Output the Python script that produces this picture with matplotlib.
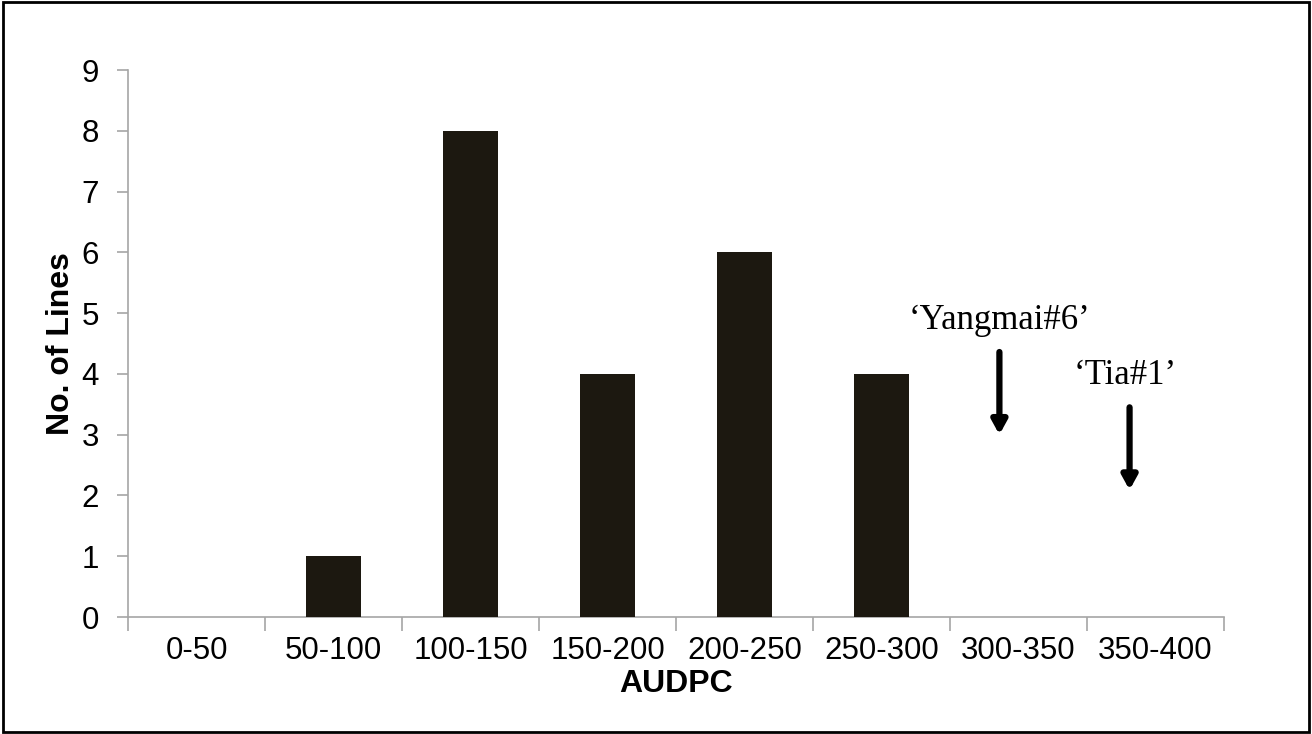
import matplotlib.pyplot as plt
from matplotlib.patches import Rectangle

# data
categories = ['0-50', '50-100', '100-150', '150-200', '200-250', '250-300', '300-350', '350-400']
counts = [0, 1, 8, 4, 6, 4, 0, 0]

# check varieties: label, arrow x (category units), arrow top, arrow tip, label position
checks = ["\u2018Yangmai#6\u2019", "\u2018Tia#1\u2019"]
check_x = [5.86, 6.81]
check_top = [4.36, 3.45]
check_tip = [3.0, 2.09]
label_x = [5.86, 6.78]
label_y = [4.885, 3.98]

plt.rcParams['font.family'] = ['Liberation Sans', 'DejaVu Sans']
fig = plt.figure(figsize=(13.12, 7.34), dpi=100)
ax = fig.add_axes([0.0976, 0.1594, 0.8354, 0.7452])

x = list(range(len(categories)))
ax.bar(x, counts, width=0.4, color='#1c1810', linewidth=0, zorder=3)

ax.set_xlim(-0.5, len(categories) - 0.5)
ax.set_ylim(0, 9)
ax.set_yticks(range(10))
ax.set_xticks(x)
ax.set_xticklabels(categories)
ax.set_xticks([i - 0.5 for i in range(len(categories) + 1)], minor=True)
ax.tick_params(axis='x', which='major', length=0, labelsize=22.5, pad=14)
ax.tick_params(axis='x', which='minor', length=10, width=1.2, color='#a6a6a6')
ax.tick_params(axis='y', length=8, width=1.2, color='#a6a6a6', labelsize=22.5, pad=13)

for s in ['top', 'right']:
    ax.spines[s].set_visible(False)
for s in ['left', 'bottom']:
    ax.spines[s].set_color('#a6a6a6')
    ax.spines[s].set_linewidth(1.2)

ax.set_xlabel('AUDPC', fontsize=23, fontweight='bold', labelpad=2)
ax.set_ylabel('No. of Lines', fontsize=23, fontweight='bold', labelpad=4)

for name, ax_x, top, tip, lx, ly in zip(checks, check_x, check_top, check_tip, label_x, label_y):
    ax.annotate('', xy=(ax_x, tip), xytext=(ax_x, top),
                arrowprops=dict(arrowstyle='-|>,head_width=0.22,head_length=0.4',
                                lw=4.5, color='black', shrinkA=0, shrinkB=0,
                                mutation_scale=20))
    ax.text(lx, ly, name, ha='center', va='center', fontsize=25,
            family=['Liberation Serif', 'DejaVu Serif'])

fig.patches.append(Rectangle((0.002, 0.003), 0.996, 0.994, transform=fig.transFigure,
                             fill=False, edgecolor='black', lw=2))

fig.savefig('out.png', dpi=100)
